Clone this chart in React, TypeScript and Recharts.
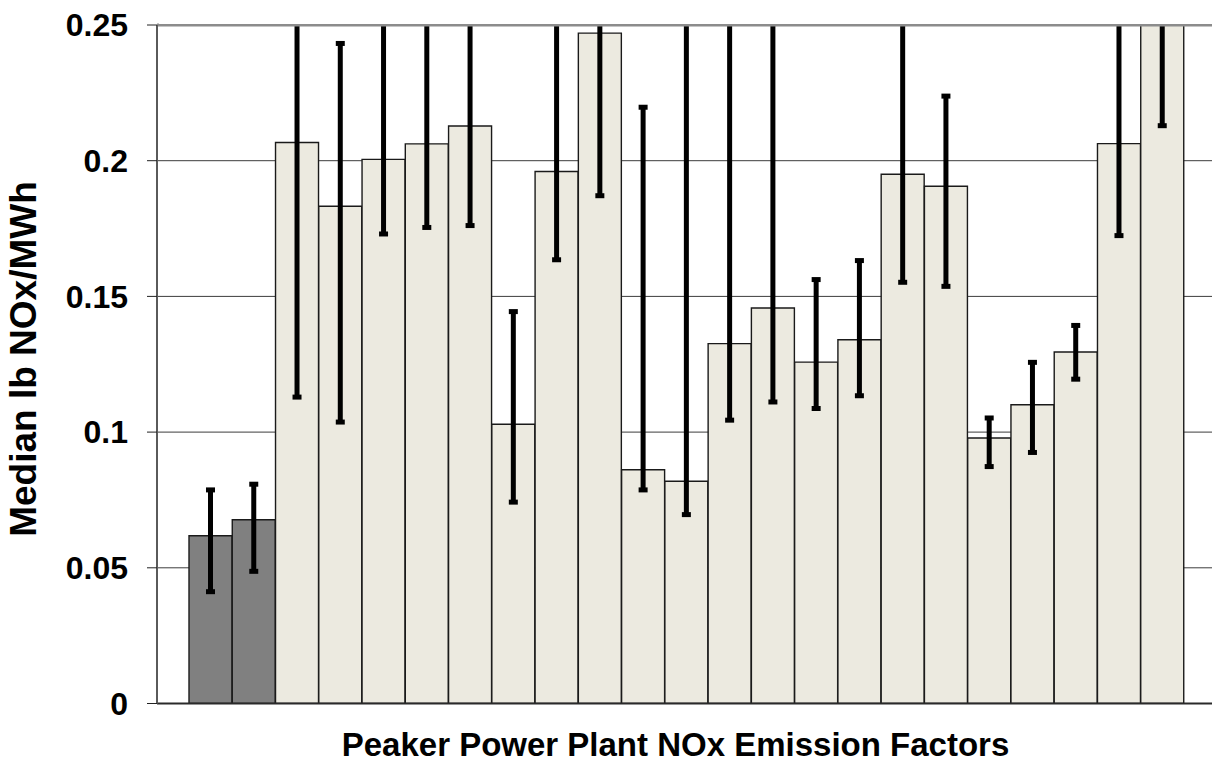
import { BarChart, Bar, XAxis, YAxis, CartesianGrid, ErrorBar, Cell, ReferenceLine, Label } from 'recharts'

// 23 plants, the first two are the reference group (dark bars)
const plants = [
  'Ref A', 'Ref B', 'Plant 1', 'Plant 2', 'Plant 3', 'Plant 4', 'Plant 5', 'Plant 6',
  'Plant 7', 'Plant 8', 'Plant 9', 'Plant 10', 'Plant 11', 'Plant 12', 'Plant 13',
  'Plant 14', 'Plant 15', 'Plant 16', 'Plant 17', 'Plant 18', 'Plant 19', 'Plant 20', 'Plant 21',
]
const medians = [
  0.0618, 0.0677, 0.2067, 0.1832, 0.2005, 0.2062, 0.2128, 0.1029, 0.196, 0.247, 0.0861, 0.0819,
  0.1326, 0.1457, 0.1258, 0.134, 0.195, 0.1906, 0.0978, 0.1101, 0.1295, 0.2063, 0.262,
]
const lows = [
  0.0412, 0.0487, 0.1129, 0.1037, 0.173, 0.1754, 0.1761, 0.0742, 0.1635, 0.1871, 0.0787, 0.0696,
  0.1044, 0.1111, 0.1087, 0.1134, 0.1552, 0.1537, 0.0873, 0.0925, 0.1195, 0.1724, 0.2129,
]
// upper ends above 0.25 run off the top of the plot
const highs = [
  0.0787, 0.0808, 0.31, 0.2432, 0.29, 0.3, 0.28, 0.1444, 0.27, 0.32, 0.2197, 0.34,
  0.3, 0.29, 0.1562, 0.1632, 0.3, 0.2238, 0.1052, 0.1257, 0.1393, 0.28, 0.33,
]
const refCount = 2
const yTicks = [0, 0.05, 0.1, 0.15, 0.2, 0.25]

const data = plants.map((name, i) => ({
  name,
  median: medians[i],
  err: [medians[i] - lows[i], highs[i] - medians[i]],
}))

const font = '"Liberation Sans", Arial, sans-serif'

const YTitle = () => {
  const cy = 359
  return (
    <text x={23} y={cy} transform={`rotate(-90, 23, ${cy})`} textAnchor="middle" dominantBaseline="central"
      style={{ fontFamily: font, fontWeight: 'bold', fontSize: 37, fill: '#000' }}>
      Median lb NOx/MWh
    </text>
  )
}

const XTitle = (props: any) => {
  const vb = props.viewBox
  return (
    <text x={vb.x + vb.width / 2 - 9} y={744} textAnchor="middle" dominantBaseline="central"
      style={{ fontFamily: font, fontWeight: 'bold', fontSize: 33, fill: '#000' }}>
      Peaker Power Plant NOx Emission Factors
    </text>
  )
}

export default function App() {
  return (
    <div style={{ position: 'absolute', left: 0, top: 0, width: 1212, height: 765, background: '#fff', overflow: 'hidden' }}>
      <BarChart width={1212} height={765} data={data} barCategoryGap={0}
        margin={{ top: 25, right: 0, left: 0, bottom: 1.5 }}>
        <CartesianGrid vertical={false} stroke="#3c3c3c" strokeWidth={1} />
        <XAxis dataKey="name" tick={false} tickLine={false} height={60}
          padding={{ left: 32, right: 28 }} axisLine={{ stroke: '#2a2a2a', strokeWidth: 2 }}>
          <Label content={<XTitle />} />
        </XAxis>
        <YAxis type="number" domain={[0, 0.25]} ticks={yTicks} allowDataOverflow width={157}
          tickSize={10} tickMargin={19} axisLine={{ stroke: '#5a5a5a', strokeWidth: 2 }}
          tickLine={{ stroke: '#222', strokeWidth: 1 }}
          tick={{ fill: '#000', fontFamily: font, fontWeight: 'bold', fontSize: 32 }}>
          <Label content={<YTitle />} />
        </YAxis>
        <Bar dataKey="median" stroke="#1a1a1a" strokeWidth={1.4} isAnimationActive={false}>
          {data.map((d, i) => (
            <Cell key={d.name} fill={i < refCount ? '#808080' : '#ECEAE0'} />
          ))}
          <ErrorBar dataKey="err" width={4.5} stroke="#000" strokeWidth={5} direction="y" />
        </Bar>
        <ReferenceLine y={0.25} stroke="#8c8c8c" strokeWidth={3} />
      </BarChart>
      {/* error bars running past 0.25 are cut at the plot's top edge */}
      <div style={{ position: 'absolute', left: 159, top: 0, width: 1053, height: 23.5, background: '#fff' }} />
    </div>
  )
}
